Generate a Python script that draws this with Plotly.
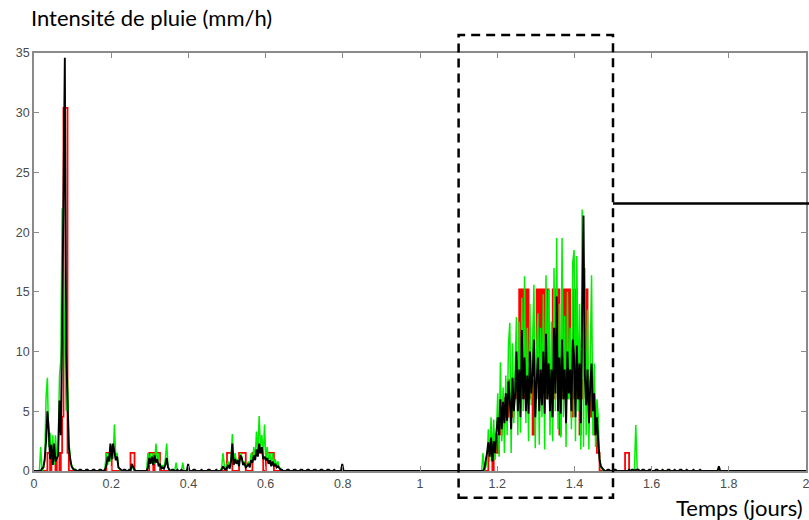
import numpy as np
import plotly.graph_objects as go

# ---------------------------------------------------------------
# Rain intensity time series (mm/h) on a 5-minute grid over 2 days
# ---------------------------------------------------------------
STEPS_PER_DAY = 288
N_STEPS = 2 * STEPS_PER_DAY + 1

# Event 1 (t ~ 0.02-0.11 d), first step index:
ev1_start = 5
green_ev1 = [2.0, 0, 0.3, 0.8, 6.2, 7.8, 2.0, 3.2, 1.0, 3.0, 0.5, 3.0, 1.0, 1.8,
             7.9, 9.3, 22.0, 16.0, 12.0, 5.0, 7.8, 2.5, 1.2, 0.5, 0.3, 0.1, 0, 0]
black_ev1 = [0, 0.2, 0.3, 1.0, 2.5, 5.0, 3.5, 1.0, 2.2, 0.5, 2.3, 0.8, 1.1, 1.3,
             5.9, 3.0, 12.0, 22.7, 34.6, 10.0, 5.9, 2.0, 1.0, 0.4, 0.2, 0.1, 0.1, 0]
red_ev1 = [0, 0, 0, 0, 0, 1.52, 1.52, 0, 1.52, 1.52, 1.52, 0, 1.52, 1.52,
           0, 1.52, 4.56, 30.4, 30.4, 30.4, 1.52, 0, 0, 0, 0, 0, 0, 0]

# Event 2 (t ~ 0.18-0.26 d)
ev2_start = 52
green_ev2 = [0, 0.3, 1.5, 0.5, 1.5, 0.8, 2.2, 1.0, 3.9, 1.2, 1.5, 0.3, 0.1,
             0, 0, 0, 0, 0, 0, 0, 0, 0.4, 0.2, 0, 0]
black_ev2 = [0, 0.1, 0.5, 1.2, 0.8, 2.3, 1.0, 2.3, 1.5, 0.9, 1.2, 0.3, 0.2,
             0.1, 0, 0.1, 0.1, 0, 0, 0.1, 0, 0.6, 0.3, 0.1, 0]
red_ev2 = [0, 0, 1.52, 1.52, 1.52, 1.52, 0, 0, 0, 0, 0, 0, 0,
           0, 0, 0, 0, 0, 0, 0, 1.52, 1.52, 1.52, 0, 0]

# Event 3 (t ~ 0.29-0.41 d)
ev3_start = 84
green_ev3 = [0, 1.5, 0.5, 1.5, 0.8, 1.5, 0.6, 2.3, 0.8, 1.5, 0.4, 0.2, 0.5, 0.3,
             1.0, 2.3, 0.4, 0.1, 0, 0, 0, 0, 0.7, 0, 0, 0, 0, 0.7, 0, 0, 0, 0, 0, 0]
black_ev3 = [0, 0.3, 1.1, 0.6, 1.2, 0.5, 1.3, 0.7, 1.0, 0.4, 0.6, 0.2, 0.3, 0.2,
             0.5, 1.1, 0.3, 0.1, 0, 0.1, 0.1, 0, 0, 0.1, 0, 0, 0.1, 0, 0, 0, 0, 0.6, 0, 0]
red_ev3 = [0, 0, 1.52, 1.52, 1.52, 0, 1.52, 1.52, 1.52, 1.52, 0, 0, 0, 0,
           0, 0, 0, 0, 0, 0, 0, 0, 0, 0, 0, 0, 0, 0, 0, 0, 0, 0, 0, 0]

# Event 4 (t ~ 0.48-0.65 d)
ev4_start = 139
green_ev4 = [0, 0.3, 1.5, 0.5, 0.2, 0.5, 0.8, 0.4, 1.0, 3.1, 0.6, 1.5, 0.8, 1.0,
             0.5, 1.5, 1.2, 0.6, 0.8, 0.3, 0.5, 0.8, 0.4, 1.5, 0.8, 2.0, 1.0, 3.3,
             1.5, 4.6, 2.0, 3.0, 1.2, 3.9, 1.0, 2.0, 0.8, 1.5, 0.6, 1.5, 0.5, 1.0,
             0.4, 0.8, 0.3, 0.2, 0.1, 0]
black_ev4 = [0, 0.1, 0.4, 0.2, 0.1, 0.3, 0.5, 0.2, 0.8, 2.3, 0.5, 1.0, 0.6, 0.9,
             0.4, 1.3, 1.1, 0.5, 0.7, 0.3, 0.4, 0.6, 0.3, 0.9, 0.7, 1.3, 0.9, 1.8,
             1.2, 2.3, 1.5, 2.0, 1.0, 1.2, 0.9, 1.1, 0.6, 0.9, 0.4, 0.8, 0.4, 0.6,
             0.3, 0.4, 0.2, 0.1, 0.1, 0]
red_ev4 = [0, 0, 0, 0, 0, 1.52, 1.52, 1.52, 1.52, 0, 0, 0, 0, 0,
           1.52, 1.52, 1.52, 1.52, 1.52, 0, 0, 0, 0, 0, 1.52, 1.52, 1.52, 1.52,
           1.52, 1.52, 1.52, 1.52, 0, 0, 1.52, 1.52, 1.52, 1.52, 1.52, 1.52, 0, 0,
           0, 0, 0, 0, 0, 0]

# Main storm (t ~ 1.16-1.47 d)
storm_start = 334
green_storm = [0, 1.5, 0, 0.3, 0.8, 3.5, 0.8, 4.5, 1.0, 4.3, 0.9, 3.0, 6.5, 1.2,
               9.1, 2.5, 7.0, 1.5, 8.0, 3.0, 10.5, 12.4, 1.5, 10.7, 4.0, 9.0, 12.9,
               3.0, 12.5, 3.2, 14.5, 5.0, 16.3, 4.0, 12.0, 2.5, 14.0, 5.5, 11.0,
               15.6, 1.9, 10.0, 13.2, 2.2, 12.0, 4.5, 14.8, 1.8, 16.4, 6.0, 15.2,
               3.0, 12.5, 2.5, 17.0, 5.0, 19.5, 3.5, 14.0, 2.8, 19.5, 4.5, 13.0,
               2.0, 15.0, 6.0, 12.0, 3.5, 17.5, 18.5, 2.5, 18.0, 5.0, 14.0, 1.8,
               21.9, 2.0, 17.0, 3.0, 13.5, 1.8, 10.0, 16.4, 3.0, 9.0, 2.0, 6.0,
               4.5, 1.0, 0.3, 0.1, 0]
black_storm = [0, 0, 0.2, 0.8, 1.5, 2.4, 1.2, 2.8, 0.8, 2.5, 1.5, 3.2, 4.5, 3.0,
               6.0, 3.5, 5.8, 4.0, 6.5, 4.2, 7.5, 6.0, 3.5, 7.8, 5.0, 6.5, 10.0,
               5.0, 8.5, 4.5, 11.8, 6.0, 9.5, 5.0, 8.0, 4.8, 10.0, 6.5, 8.0, 11.0,
               4.5, 7.5, 9.5, 5.0, 8.5, 5.5, 10.0, 4.8, 11.5, 6.0, 9.0, 5.0, 8.5,
               4.5, 12.0, 6.5, 14.6, 5.0, 9.5, 4.8, 11.0, 6.0, 8.5, 4.0, 10.0, 6.5,
               8.5, 5.0, 11.0, 9.5, 4.5, 10.5, 6.0, 9.0, 4.0, 13.0, 21.4, 8.0, 5.5,
               8.5, 4.0, 7.0, 9.0, 5.0, 6.5, 3.0, 4.5, 2.5, 0.9, 0.4, 0.2, 0.1]
red_storm = [0, 0, 0, 0, 0, 1.52, 1.52, 1.52, 0, 1.52, 1.52, 3.04, 1.52, 4.56,
             3.04, 4.56, 6.08, 4.56, 6.08, 4.56, 7.6, 6.08, 7.6, 4.56, 7.6, 6.08,
             9.12, 6.08, 15.2, 7.6, 15.2, 6.08, 15.2, 7.6, 15.2, 9.12, 6.08, 7.6,
             3.04, 7.6, 6.08, 15.2, 7.6, 15.2, 6.08, 15.2, 7.6, 15.2, 6.08, 15.2,
             7.6, 4.56, 7.6, 15.2, 6.08, 15.2, 7.6, 15.2, 3.04, 7.6, 6.08, 15.2,
             7.6, 15.2, 6.08, 15.2, 7.6, 4.56, 15.2, 6.08, 15.2, 6.08, 7.6, 3.04,
             7.6, 6.08, 15.2, 7.6, 15.2, 7.6, 6.08, 4.56, 7.6, 6.08, 3.04, 4.56,
             1.52, 1.52, 0]

# Small late event (t ~ 1.53-1.57 d)
late_start = 441
green_late = [0, 0, 0, 0, 0, 0, 0, 0, 3.85, 0.3, 0]
black_late = [0, 0, 0, 0.1, 0, 0, 0.1, 0, 1.2, 0.3, 0.1]
red_late = [1.52, 1.52, 1.52, 0, 0, 0, 0, 0, 0, 0, 0]

# Light drizzle recorded by the black series between events
drizzle_1_start = 33
black_drizzle_1 = [0, 0.1, 0.1, 0, 0, 0, 0.1, 0.1, 0, 0, 0, 0.1, 0.1, 0, 0, 0, 0.1, 0.1, 0]
drizzle_2_start = 118
black_drizzle_2 = [0, 0.1, 0.1, 0, 0, 0, 0, 0.1, 0, 0, 0, 0, 0.1, 0.1, 0, 0, 0, 0, 0.1, 0, 0]
drizzle_3_start = 187
black_drizzle_3 = [0, 0, 0.1, 0.1, 0, 0, 0, 0.1, 0.1, 0, 0, 0, 0.1, 0.1, 0, 0, 0, 0.1,
                   0.1, 0, 0, 0, 0.1, 0.1, 0, 0, 0, 0.1, 0.1, 0, 0, 0, 0.1, 0.1, 0,
                   0, 0, 0.1, 0, 0, 0, 0, 0, 0.6, 0, 0]
drizzle_4_start = 426
black_drizzle_4 = [0, 0, 0.1, 0.1, 0, 0, 0, 0.1, 0.1, 0, 0, 0, 0, 0, 0, 0,
                   0, 0, 0, 0, 0.1, 0, 0, 0.1, 0.1, 0, 0, 0, 0.1, 0.1, 0, 0, 0,
                   0.1, 0.1, 0, 0, 0, 0.1, 0.1, 0, 0, 0, 0.1, 0, 0, 0, 0.1, 0.1,
                   0, 0, 0, 0.1, 0, 0, 0, 0.1, 0.1, 0, 0, 0, 0.1, 0, 0, 0, 0, 0.1,
                   0, 0, 0, 0, 0.1, 0, 0, 0, 0, 0, 0, 0, 0, 0, 0, 0, 0, 0, 0.4, 0]

green_events = [(ev1_start, green_ev1), (ev2_start, green_ev2), (ev3_start, green_ev3),
                (ev4_start, green_ev4), (storm_start, green_storm), (late_start, green_late)]
black_events = [(ev1_start, black_ev1), (ev2_start, black_ev2), (ev3_start, black_ev3),
                (ev4_start, black_ev4), (storm_start, black_storm), (late_start, black_late),
                (drizzle_1_start, black_drizzle_1), (drizzle_2_start, black_drizzle_2),
                (drizzle_3_start, black_drizzle_3), (drizzle_4_start, black_drizzle_4)]
red_events = [(ev1_start, red_ev1), (ev2_start, red_ev2), (ev3_start, red_ev3),
              (ev4_start, red_ev4), (storm_start, red_storm), (late_start, red_late)]

# Axis ticks
x_tick_values = [0, 0.2, 0.4, 0.6, 0.8, 1.0, 1.2, 1.4, 1.6, 1.8, 2.0]
x_tick_labels = ["0", "0.2", "0.4", "0.6", "0.8", "1", "1.2", "1.4", "1.6", "1.8", "2"]
y_tick_values = [0, 5, 10, 15, 20, 25, 30, 35]
y_tick_labels = ["0", "5", "10", "15", "20", "25", "30", "35"]

# Highlighted storm window (days, mm/h) and the pointer line level
window_t = (1.10, 1.50)
window_i = (-2.25, 36.5)
pointer_level = 22.4

X_RANGE = (0.0, 2.0)
Y_RANGE = (0.0, 35.0)


def assemble(events):
    series = np.zeros(N_STEPS)
    for start, values in events:
        for k, v in enumerate(values):
            if v:
                series[start + k] = v
    return series


t = np.arange(N_STEPS) / STEPS_PER_DAY
green = assemble(green_events)
black = assemble(black_events)
red = assemble(red_events)


def to_paper_x(v):
    return (v - X_RANGE[0]) / (X_RANGE[1] - X_RANGE[0])


def to_paper_y(v):
    return (v - Y_RANGE[0]) / (Y_RANGE[1] - Y_RANGE[0])


fig = go.Figure()
fig.add_trace(go.Scatter(x=t, y=red, mode="lines", line=dict(color="#ff0000", width=1.8, shape="hv"),
                         hoverinfo="skip", showlegend=False))
fig.add_trace(go.Scatter(x=t, y=green, mode="lines", line=dict(color="#00ee00", width=1.5),
                         hoverinfo="skip", showlegend=False))
fig.add_trace(go.Scatter(x=t, y=black, mode="lines", line=dict(color="#000000", width=1.9),
                         hoverinfo="skip", showlegend=False))

axis_grey = "#8a8a8a"
tick_font = dict(family="Liberation Sans, Arial, sans-serif", size=12.5, color="#4a4a4a")
common_axis = dict(showgrid=False, zeroline=False, showline=True, linecolor=axis_grey,
                   linewidth=1.5, mirror="ticks", ticks="inside", ticklen=5,
                   tickcolor=axis_grey, tickwidth=1, tickfont=tick_font, automargin=False,
                   ticklabeloverflow="allow")

fig.update_layout(
    width=809, height=520,
    margin=dict(l=34, r=3, t=53, b=49),
    paper_bgcolor="white", plot_bgcolor="white",
    xaxis=dict(range=list(X_RANGE), tickvals=x_tick_values, ticktext=x_tick_labels, **common_axis),
    yaxis=dict(range=list(Y_RANGE), tickvals=y_tick_values, ticktext=y_tick_labels, **common_axis),
    annotations=[
        dict(text="Intensité de pluie (mm/h)", xref="paper", yref="paper",
             x=-0.0065, y=1.086, xanchor="left", yanchor="middle", showarrow=False,
             font=dict(family="Lato, sans-serif", size=22, color="#000000")),
        dict(text="Temps (jours)", xref="paper", yref="paper",
             x=0.9987, y=-0.0885, xanchor="right", yanchor="middle", showarrow=False,
             font=dict(family="Lato, sans-serif", size=22, color="#000000")),
    ],
    shapes=[
        dict(type="rect", xref="paper", yref="paper",
             x0=to_paper_x(window_t[0]), x1=to_paper_x(window_t[1]),
             y0=to_paper_y(window_i[0]), y1=to_paper_y(window_i[1]),
             line=dict(color="black", width=2.5, dash="9px,6px"), layer="above"),
        dict(type="line", xref="paper", yref="paper",
             x0=to_paper_x(window_t[1]), x1=1.01,
             y0=to_paper_y(pointer_level), y1=to_paper_y(pointer_level),
             line=dict(color="black", width=2.5), layer="above"),
    ],
)

fig.write_html("out.html")
